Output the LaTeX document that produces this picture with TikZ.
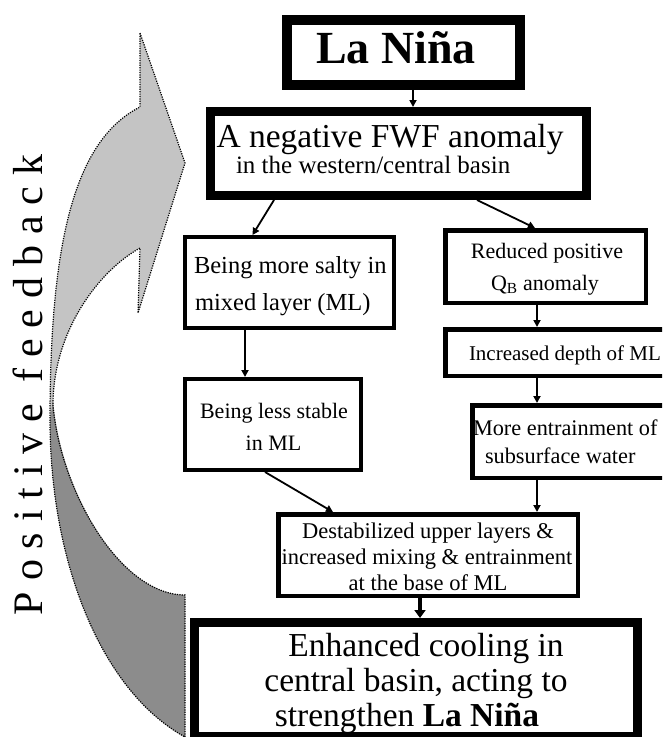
\documentclass[tikz,border=0pt]{standalone}
\usepackage{fontspec}
\setmainfont{Liberation Serif}
\usetikzlibrary{arrows.meta}
\definecolor{lightgr}{HTML}{C4C4C4}
\definecolor{darkgr}{HTML}{8C8C8C}
\newcommand\fsz[1]{\fontsize{#1}{#1}\selectfont}
\begin{document}
\begin{tikzpicture}[x=1pt,y=-1pt,
  box/.style={draw=black, rectangle, fill=white, inner sep=0pt},
  txt/.style={inner sep=0pt, outer sep=0pt, text=black},
  arr/.style={line width=1.8pt, -{Triangle[length=7pt,width=7pt]}},
  bigarr/.style={line width=4pt, -{Triangle[length=8pt,width=11pt]}},
  dots/.style={draw=black, line width=1.2pt, dash pattern=on 1.2pt off 1.2pt},
]
\useasboundingbox (0,0) rectangle (662,737);
\clip (0,0) rectangle (662,737);
\fill[white] (0,0) rectangle (662,737);

% curved feedback arrow
\fill[lightgr] (140,33) -- (185,163) -- (138,313) -- (140,248)
  .. controls (100,270) and (53,330) .. (53,405)
  .. controls (60,490) and (120,595) .. (185,595)
  -- (185,737)
  .. controls (100,690) and (50,560) .. (50,420)
  .. controls (50,240) and (75,140) .. (140,107) -- cycle;
\fill[darkgr] (53,400)
  .. controls (60,490) and (120,595) .. (185,595)
  -- (185,737)
  .. controls (100,690) and (50,560) .. (50,420) -- cycle;
\draw[dots] (140,33) -- (185,163) -- (138,313) -- (140,248)
  .. controls (100,270) and (53,330) .. (53,405)
  .. controls (60,490) and (120,595) .. (185,595)
  -- (185,737)
  .. controls (100,690) and (50,560) .. (50,420)
  .. controls (50,240) and (75,140) .. (140,107) -- cycle;

\node[txt, rotate=90, anchor=base west] (pf) at (42,615)
  {\fsz{42}\makebox[460pt][s]{P\hfill o\hfill s\hfill i\hfill t\hfill i\hfill v\hfill e\hfill\hfill f\hfill e\hfill e\hfill d\hfill b\hfill a\hfill c\hfill k}};

% boxes
\node[box, line width=10pt, minimum width=233pt, minimum height=65pt] (lanina) at (403.5,52.5) {};
\node[box, line width=9pt, minimum width=376pt, minimum height=84pt] (fwf) at (398.5,153.5) {};
\node[box, line width=4pt, minimum width=209pt, minimum height=91pt] (salty) at (289.5,282.5) {};
\node[box, line width=4pt, minimum width=176pt, minimum height=91pt] (stable) at (273,424.5) {};
\node[box, line width=4.5pt, minimum width=200.5pt, minimum height=72.5pt] (qb) at (545.5,266.5) {};
\node[box, line width=4.5pt, minimum width=237.5pt, minimum height=46.5pt] (depth) at (564,352.5) {};
\node[box, line width=4.5pt, minimum width=210.5pt, minimum height=72.5pt] (entr) at (577.5,441.5) {};
\node[box, line width=4.5pt, minimum width=299.5pt, minimum height=81.5pt] (destab) at (428,555) {};
\node[box, line width=9pt, minimum width=443pt, minimum height=114pt] (cool) at (416,679.5) {};

% texts
\node[txt, anchor=base] (tl) at (396,63) {\fsz{46}\bfseries La Niña};
\node[txt, anchor=base west] (tf1) at (216.5,147) {\fsz{33.5}A negative FWF anomaly};
\node[txt, anchor=base west] (tf2) at (236,173) {\fsz{25}in the western/central basin};
\node[txt, anchor=base west] (ts1) at (194,273) {\fsz{24.5}Being more salty in};
\node[txt, anchor=base west] (ts2) at (195,310) {\fsz{24.5}mixed layer (ML)};
\node[txt, anchor=base] (tb1) at (274,418) {\fsz{22}Being less stable};
\node[txt, anchor=base] (tb2) at (273.5,450) {\fsz{22}in ML};
\node[txt, anchor=base] (tq1) at (547,258) {\fsz{22}Reduced positive};
\node[txt, anchor=base] (tq2) at (545,290) {\fsz{22}Q\textsubscript{B} anomaly};
\node[txt, anchor=base west] (td) at (469,360) {\fsz{21}Increased depth of ML};
\node[txt, anchor=base west] (te1) at (473,435) {\fsz{22.3}More entrainment of};
\node[txt, anchor=base west] (te2) at (485,463) {\fsz{22.3}subsurface water};
\node[txt, anchor=base] (tx1) at (428,538) {\fsz{22.5}Destabilized upper layers \&};
\node[txt, anchor=base] (tx2) at (427,564) {\fsz{22.5}increased mixing \& entrainment};
\node[txt, anchor=base] (tx3) at (428,590) {\fsz{22.5}at the base of ML};
\node[txt, anchor=base] (tc1) at (426,656) {\fsz{33.5}Enhanced cooling in};
\node[txt, anchor=base] (tc2) at (416,691) {\fsz{33.5}central basin, acting to};
\node[txt, anchor=base] (tc3) at (407,726) {\fsz{33.5}strengthen \textbf{La Niña}};

% connector x positions
\coordinate (x413) at (413,0);
\coordinate (x274) at (274,0);
\coordinate (x252) at (252.5,0);
\coordinate (x477) at (477,0);
\coordinate (x535) at (535,0);
\coordinate (x245) at (245,0);
\coordinate (x537) at (537,0);
\coordinate (x265) at (265,0);
\coordinate (x333) at (333,0);
\coordinate (x420) at (420,0);

\draw[arr] (lanina.south -| x413) -- (fwf.north -| x413);
\draw[arr] (fwf.south -| x274) -- (salty.north -| x252);
\draw[arr] (fwf.south -| x477) -- (qb.north -| x535);
\draw[arr] (salty.south -| x245) -- (stable.north -| x245);
\draw[arr] (qb.south -| x537) -- (depth.north -| x537);
\draw[arr] (depth.south -| x537) -- (entr.north -| x537);
\draw[arr] (stable.south -| x265) -- (destab.north -| x333);
\draw[arr] (entr.south -| x537) -- (destab.north -| x537);
\draw[bigarr] (destab.south -| x420) -- (cool.north -| x420);
\end{tikzpicture}
\end{document}
